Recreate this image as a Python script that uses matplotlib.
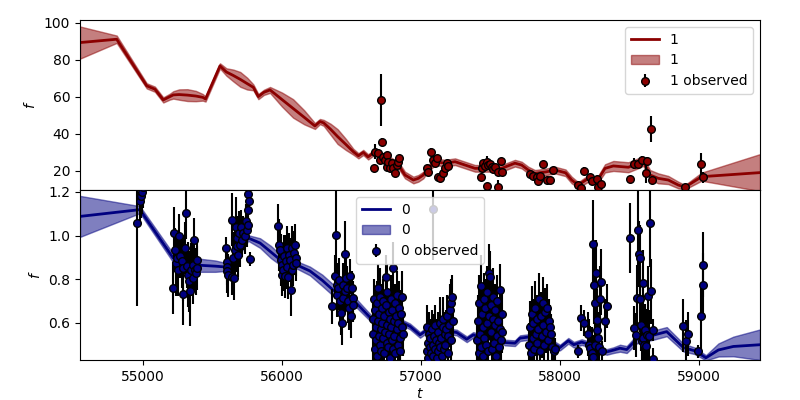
import numpy as np
import matplotlib
matplotlib.use("Agg")
import matplotlib.pyplot as plt

# ---------------- top panel (series "1") ----------------
t1_model = [54547, 54811, 55027, 55086, 55146, 55194, 55218, 55260, 55320, 55380,
            55430, 55450, 55554, 55600, 55650, 55700, 55750, 55794, 55830, 55870,
            55914, 56000, 56080, 56160, 56237, 56273, 56300, 56350, 56400, 56460,
            56513, 56550, 56585, 56620, 56669, 56760, 56837, 56885,
            56945, 56981, 57017, 57041, 57101, 57173, 57245, 57317, 57389, 57460,
            57580, 57676, 57724, 57772, 57820, 57900, 57964, 58040, 58084, 58132,
            58204, 58264, 58324, 58384, 58492, 58564, 58600, 58648, 58707, 58779,
            58851, 58899, 59019, 59439]
f1_model = [89.4, 91.2, 66.0, 64.2, 58.4, 60.2, 61.1, 61.3, 61.0, 60.5,
            59.8, 58.9, 76.8, 73.5, 71.6, 69.5, 67.2, 65.2, 60.2, 62.5,
            63.8, 58.6, 53.8, 49.0, 44.3, 46.7, 46.0, 42.5, 38.6, 34.3,
            30.4, 28.2, 30.0, 27.6, 30.4, 26.5, 23.2, 17.8,
            15.1, 16.0, 17.8, 20.5, 25.0, 24.2, 25.0, 23.2, 21.4, 21.4,
            21.4, 24.2, 23.2, 20.5, 18.7, 19.5, 20.5, 19.0, 15.1, 12.4,
            16.0, 14.2, 21.4, 22.7, 22.0, 24.2, 25.0, 17.8, 16.0, 15.1,
            12.4, 11.2, 16.9, 19.1]
s1_model = [8.7, 2.0, 1.4, 1.4, 1.4, 1.6, 2.0, 2.8, 3.2, 2.8,
            1.8, 1.4, 1.4, 2.0, 3.2, 4.0, 3.2, 1.6, 1.4, 1.4,
            1.6, 3.8, 5.0, 3.8, 1.6, 1.4, 1.6, 3.0, 4.0, 3.0,
            1.6, 1.4, 1.4, 1.4, 1.5, 1.8, 1.8, 1.8,
            1.8, 1.8, 1.8, 1.8, 1.8, 1.8, 1.8, 1.8, 1.8, 1.8,
            1.8, 1.8, 1.8, 1.8, 1.8, 1.8, 1.8, 1.8, 1.8, 1.5,
            1.8, 1.8, 2.2, 2.7, 2.7, 2.7, 2.2, 2.7, 2.7, 2.2,
            1.8, 1.2, 2.2, 10.0]

t1_obs = [56664, 56669, 56693, 56705, 56712, 56717, 56729, 56741, 56753, 56757,
          56765, 56777, 56789, 56801, 56813, 56825, 56837, 56844,
          57041, 57053, 57072, 57088, 57101, 57112, 57124, 57137, 57161, 57173,
          57185, 57197,
          57432, 57437, 57448, 57460, 57472, 57476, 57484, 57496, 57508, 57520,
          57532, 57552, 57556, 57575, 57580,
          57784, 57808, 57832, 57839, 57856, 57880, 57904, 57928, 57952,
          58127, 58151, 58175, 58216, 58233, 58264, 58276, 58293,
          58503, 58532, 58564, 58592, 58619, 58624, 58652, 58664,
          58899, 59014, 59031]
f1_obs = [21.4, 30.4, 29.6, 25.9, 58.4, 35.9, 27.7, 25.9, 28.6, 22.3,
          25.0, 21.4, 24.2, 21.4, 18.7, 23.2, 25.0, 26.9,
          21.4, 19.6, 30.4, 25.9, 24.5, 26.9, 16.9, 16.0, 18.7, 21.4,
          24.2, 22.7,
          16.6, 21.4, 24.2, 22.6, 25.0, 11.9, 23.2, 23.8, 22.0, 20.9,
          22.0, 19.6, 11.2, 25.6, 19.6,
          18.2, 17.3, 16.9, 14.8, 17.3, 23.6, 15.1, 15.1, 20.5,
          12.4, 10.6, 20.2, 16.9, 14.6, 15.5, 11.2, 13.0,
          15.5, 23.8, 23.8, 25.9, 18.7, 25.4, 42.5, 15.1,
          11.2, 23.8, 16.6]
e1_obs = [1.5, 4.0, 1.5, 1.5, 14.0, 2.0, 1.5, 1.5, 1.5, 1.5,
          1.5, 1.5, 1.5, 1.5, 1.5, 1.5, 1.5, 1.5,
          1.5, 1.5, 2.0, 1.5, 1.5, 1.5, 1.5, 1.5, 1.5, 1.5,
          1.5, 1.5,
          1.5, 1.5, 1.5, 2.0, 3.0, 1.5, 1.5, 1.5, 1.5, 1.5,
          1.5, 1.5, 4.0, 1.5, 1.5,
          1.5, 1.5, 1.5, 1.5, 1.5, 1.5, 1.5, 1.5, 1.5,
          1.5, 1.5, 2.0, 1.5, 1.5, 1.5, 1.5, 1.5,
          2.0, 3.0, 2.0, 2.0, 5.0, 2.0, 7.0, 2.0,
          1.5, 6.0, 3.0]

# ---------------- bottom panel (series "0") ----------------
t0_model = [54547, 54978, 55218, 55260, 55300, 55410, 55520, 55580, 55626, 55757,
            55842, 55920, 55986, 56081, 56201, 56290, 56369, 56513, 56657, 56860,
            56921, 56993, 57029, 57100, 57180, 57257, 57329, 57376, 57450, 57530,
            57604, 57676, 57712, 57772, 57850, 57928, 58000, 58060, 58100, 58156,
            58220, 58288, 58336, 58384, 58432, 58480, 58552, 58610, 58672, 58768,
            58888, 58970, 59050, 59140, 59247, 59439]
f0_model = [1.088, 1.119, 0.897, 0.885, 0.875, 0.864, 0.860, 0.857, 0.856, 0.989,
            0.966, 0.925, 0.890, 0.873, 0.838, 0.795, 0.750, 0.705, 0.610, 0.603,
            0.584, 0.545, 0.561, 0.548, 0.562, 0.556, 0.525, 0.545, 0.530, 0.540,
            0.510, 0.507, 0.530, 0.535, 0.520, 0.515, 0.487, 0.518, 0.500, 0.512,
            0.500, 0.476, 0.467, 0.475, 0.484, 0.478, 0.525, 0.535, 0.544, 0.560,
            0.487, 0.472, 0.440, 0.476, 0.492, 0.500]
s0_model = [0.094, 0.016, 0.020, 0.024, 0.027, 0.030, 0.026, 0.020, 0.016, 0.013,
            0.022, 0.028, 0.024, 0.016, 0.020, 0.026, 0.026, 0.020, 0.015, 0.013,
            0.013, 0.013, 0.013, 0.013, 0.013, 0.013, 0.013, 0.013, 0.013, 0.013,
            0.013, 0.013, 0.013, 0.013, 0.013, 0.013, 0.013, 0.013, 0.013, 0.013,
            0.013, 0.013, 0.013, 0.013, 0.016, 0.016, 0.019, 0.021, 0.021, 0.021,
            0.018, 0.015, 0.012, 0.030, 0.045, 0.070]

t0_obs = [
    # ~55000
    54959, 54978, 54985, 54992, 54998,
    # ~55300
    55218, 55223, 55230, 55235, 55242, 55250, 55261, 55266, 55278, 55286,
    55290, 55302, 55309, 55314, 55326, 55333, 55338, 55345, 55358, 55362,
    55369, 55374, 55381, 55386, 55391,
    # ~55680
    55597, 55602, 55604, 55606, 55614, 55638, 55642, 55650, 55657, 55662,
    55667, 55674, 55678, 55686, 55691, 55698, 55703, 55710, 55722, 55734,
    55741, 55746, 55753, 55758, 55759, 55763, 55770,
    # ~56040
    55973, 55978, 55986, 55991, 55998, 56002, 56009, 56014, 56022, 56027,
    56034, 56038, 56045, 56050, 56058, 56063, 56070, 56074, 56081, 56088,
    56093, 56099, 56101,
    # ~56440
    56358, 56381, 56388, 56393, 56398, 56405, 56412, 56417, 56424, 56429,
    56436, 56441, 56453, 56454, 56460, 56470, 56477, 56484, 56489, 56496,
    56501, 56508, 56513,
    # ~56760
    56655, 56658, 56662, 56667, 56669, 56673, 56678, 56681, 56685, 56689,
    56693, 56696, 56700, 56703, 56707, 56711, 56714, 56719, 56722, 56726,
    56729, 56734, 56737, 56741, 56745, 56748, 56752, 56756, 56759, 56763,
    56768, 56771, 56775, 56779, 56782, 56786, 56790, 56794, 56797, 56801,
    56805, 56809, 56812, 56816, 56820, 56824, 56829, 56833, 56837, 56842,
    56846, 56851, 56856, 56861, 56866, 56871,
    # ~57130
    57040, 57044, 57049, 57053, 57058, 57063, 57067, 57072, 57078, 57083,
    57087, 57090, 57093, 57098, 57104, 57109, 57113, 57119, 57124, 57129,
    57134, 57139, 57145, 57150, 57155, 57160, 57166, 57171, 57176, 57181,
    57186, 57192, 57197, 57203, 57208, 57213, 57218, 57223, 57228,
    # ~57500
    57405, 57410, 57414, 57419, 57424, 57429, 57433, 57438, 57443, 57448,
    57452, 57457, 57462, 57467, 57472, 57477, 57481, 57486, 57491, 57496,
    57501, 57506, 57510, 57515, 57520, 57525, 57530, 57535, 57540, 57545,
    57550, 57555, 57560, 57565, 57570, 57575, 57580, 57586,
    # ~57870
    57780, 57786, 57792, 57797, 57803, 57808, 57814, 57820, 57826, 57832,
    57838, 57844, 57851, 57857, 57863, 57869, 57875, 57881, 57887, 57893,
    57899, 57904, 57911, 57918, 57926, 57934, 57945, 57958, 57966,
    # ~58250
    58132, 58151, 58175, 58204, 58211, 58216, 58228, 58235, 58240, 58242,
    58252, 58253, 58259, 58264, 58268, 58276, 58280, 58288, 58295, 58300,
    58324, 58340,
    # ~58590
    58503, 58532, 58549, 58556, 58563, 58565, 58576, 58578, 58585, 58587,
    58599, 58600, 58602, 58611, 58619, 58623, 58631, 58642, 58648, 58652,
    58666, 58667,
    # ~58950
    58888, 58904, 58918, 58995, 59016, 59026, 59031]

f0_obs = [
    1.058, 1.157, 1.180, 1.200, 1.225,
    0.760, 1.012, 0.935, 0.874, 0.897, 0.844, 0.997, 0.905, 0.882, 0.732,
    0.851, 0.943, 1.104, 0.859, 0.821, 0.790, 0.744, 0.844, 0.867, 0.805,
    0.981, 0.844, 0.828, 0.889, 0.851,
    0.943, 0.879, 0.855, 0.836, 0.818, 0.809, 1.073, 0.897, 0.805, 0.932,
    1.038, 0.951, 0.989, 0.912, 1.012, 0.958, 1.038, 0.981, 1.012, 0.997,
    1.066, 1.027, 1.190, 1.119, 1.050, 1.157, 0.893,
    1.043, 0.958, 0.932, 0.889, 0.867, 0.821, 0.844, 0.905, 0.813, 0.882,
    0.943, 0.855, 0.809, 0.912, 0.889, 0.752, 0.943, 0.844, 0.867, 0.920,
    0.955, 0.897, 0.874,
    0.676, 0.813, 1.004, 0.775, 0.729, 0.760, 0.798, 0.699, 0.645, 0.599,
    0.714, 0.775, 0.917, 0.744, 0.805, 0.760, 0.699, 0.668, 0.813, 0.630,
    0.760, 0.714, 0.683,
    0.62, 0.55, 0.71, 0.48, 0.66, 0.58, 0.52, 0.69, 0.45, 0.61,
    0.76, 0.54, 0.64, 0.50, 0.72, 0.57, 0.47, 0.67, 0.60, 0.53,
    0.70, 0.46, 0.63, 0.56, 0.68, 0.81, 0.51, 0.59, 0.74, 0.49,
    0.65, 0.55, 0.62, 0.44, 0.71, 0.58, 0.52, 0.66, 0.48, 0.85,
    0.61, 0.54, 0.69, 0.46, 0.63, 0.57, 0.73, 0.50, 0.60, 0.67,
    0.53, 0.47, 0.64, 0.58, 0.72, 0.55,
    0.47, 0.58, 0.51, 0.44, 0.55, 0.49, 0.53, 0.46, 0.57, 0.50,
    0.45, 1.12, 0.54, 0.48, 0.59, 0.52, 0.44, 0.56, 0.47, 0.51,
    0.60, 0.49, 0.53, 0.45, 0.58, 0.62, 0.48, 0.55, 0.50, 0.57,
    0.63, 0.46, 0.54, 0.59, 0.66, 0.52, 0.69, 0.72, 0.61,
    0.52, 0.61, 0.46, 0.69, 0.55, 0.77, 0.49, 0.64, 0.58, 0.45,
    0.71, 0.53, 0.67, 0.50, 0.60, 0.74, 0.47, 0.63, 0.83, 0.81,
    0.56, 0.68, 0.48, 0.62, 0.72, 0.51, 0.59, 0.66, 0.45, 0.70,
    0.54, 0.61, 0.49, 0.75, 0.57, 0.52, 0.64, 0.56,
    0.50, 0.58, 0.46, 0.64, 0.53, 0.60, 0.48, 0.67, 0.55, 0.62,
    0.51, 0.57, 0.71, 0.47, 0.63, 0.54, 0.69, 0.59, 0.50, 0.65,
    0.56, 0.67, 0.52, 0.61, 0.58, 0.55, 0.49, 0.47, 0.48,
    0.469, 0.622, 0.599, 0.548, 0.500, 0.484, 0.460, 0.445, 0.961, 0.775,
    0.691, 0.500, 0.828, 0.614, 0.568, 0.530, 0.490, 0.711, 0.787, 0.469,
    0.611, 0.676,
    0.989, 0.576, 0.545, 0.714, 1.024, 0.916, 0.897, 0.709, 0.591, 0.515,
    0.783, 0.530, 0.500, 0.568, 0.492, 0.545, 0.722, 0.538, 1.058, 0.744,
    0.568, 0.435,
    0.588, 0.515, 0.549, 0.469, 0.630, 0.772, 0.867]

e0_obs = [
    0.38, 0.10, 0.10, 0.10, 0.10,
    0.12, 0.12, 0.10, 0.15, 0.10, 0.12, 0.10, 0.10, 0.12, 0.14,
    0.15, 0.12, 0.12, 0.10, 0.15, 0.14, 0.16, 0.12, 0.10, 0.12,
    0.10, 0.10, 0.10, 0.08, 0.10,
    0.05, 0.08, 0.08, 0.10, 0.10, 0.08, 0.12, 0.12, 0.10, 0.12,
    0.14, 0.12, 0.10, 0.10, 0.10, 0.10, 0.08, 0.08, 0.08, 0.08,
    0.08, 0.08, 0.06, 0.06, 0.06, 0.06, 0.03,
    0.10, 0.12, 0.10, 0.12, 0.10, 0.10, 0.10, 0.10, 0.10, 0.12,
    0.10, 0.10, 0.10, 0.10, 0.10, 0.12, 0.10, 0.10, 0.10, 0.10,
    0.10, 0.08, 0.08,
    0.08, 0.10, 0.20, 0.10, 0.10, 0.10, 0.10, 0.10, 0.10, 0.10,
    0.10, 0.10, 0.15, 0.10, 0.10, 0.10, 0.10, 0.10, 0.08, 0.10,
    0.08, 0.08, 0.08,
    0.10, 0.12, 0.09, 0.11, 0.10, 0.13, 0.09, 0.10, 0.12, 0.10,
    0.11, 0.09, 0.12, 0.10, 0.13, 0.10, 0.09, 0.11, 0.10, 0.12,
    0.10, 0.09, 0.11, 0.10, 0.12, 0.10, 0.09, 0.11, 0.13, 0.10,
    0.10, 0.12, 0.09, 0.10, 0.11, 0.10, 0.12, 0.09, 0.10, 0.12,
    0.10, 0.11, 0.09, 0.10, 0.12, 0.10, 0.11, 0.09, 0.10, 0.12,
    0.10, 0.09, 0.11, 0.10, 0.12, 0.10,
    0.09, 0.10, 0.08, 0.09, 0.10, 0.08, 0.09, 0.10, 0.09, 0.08,
    0.09, 0.23, 0.10, 0.08, 0.09, 0.10, 0.08, 0.09, 0.10, 0.09,
    0.12, 0.09, 0.10, 0.08, 0.09, 0.10, 0.09, 0.10, 0.08, 0.09,
    0.10, 0.08, 0.09, 0.10, 0.12, 0.09, 0.11, 0.10, 0.09,
    0.10, 0.12, 0.09, 0.13, 0.10, 0.14, 0.09, 0.11, 0.10, 0.09,
    0.12, 0.10, 0.13, 0.09, 0.11, 0.12, 0.10, 0.11, 0.13, 0.12,
    0.10, 0.11, 0.09, 0.12, 0.13, 0.10, 0.11, 0.12, 0.09, 0.12,
    0.10, 0.11, 0.09, 0.12, 0.10, 0.09, 0.11, 0.10,
    0.10, 0.12, 0.09, 0.13, 0.10, 0.11, 0.09, 0.12, 0.10, 0.11,
    0.09, 0.10, 0.12, 0.09, 0.11, 0.10, 0.12, 0.10, 0.09, 0.11,
    0.10, 0.11, 0.09, 0.10, 0.10, 0.09, 0.08, 0.06, 0.05,
    0.03, 0.06, 0.06, 0.10, 0.12, 0.10, 0.12, 0.10, 0.20, 0.18,
    0.17, 0.12, 0.15, 0.14, 0.14, 0.12, 0.12, 0.15, 0.15, 0.05,
    0.10, 0.10,
    0.16, 0.10, 0.10, 0.15, 0.18, 0.15, 0.15, 0.15, 0.12, 0.12,
    0.15, 0.12, 0.12, 0.12, 0.12, 0.12, 0.14, 0.12, 0.20, 0.15,
    0.05, 0.05,
    0.12, 0.10, 0.10, 0.03, 0.15, 0.15, 0.15]

# ---------------- drawing ----------------
red = "darkred"
blue = "navy"

fig, (ax1, ax2) = plt.subplots(2, 1, sharex=True, figsize=(8, 4), dpi=100)
fig.subplots_adjust(left=0.1, right=0.95, top=0.95, bottom=0.1, hspace=0)

def panel(ax, tm, fm, sm, to, fo, eo, color, name):
    tm = np.asarray(tm); fm = np.asarray(fm); sm = np.asarray(sm)
    ax.plot(tm, fm, color=color, lw=2, label=name, zorder=2.5)
    ax.fill_between(tm, fm - sm, fm + sm, color=color, alpha=0.5,
                    label=name, zorder=2)
    ax.errorbar(to, fo, yerr=eo, fmt="o", color=color, ecolor="black",
                mec="black", mfc=color, ms=5.5, mew=1, elinewidth=1.5,
                label=name + " observed", zorder=3)
    ax.set_ylabel("$f$")

panel(ax1, t1_model, f1_model, s1_model, t1_obs, f1_obs, e1_obs, red, "1")
panel(ax2, t0_model, f0_model, s0_model, t0_obs, f0_obs, e0_obs, blue, "0")

ax1.set_ylim(9.7, 101.6)
ax1.set_yticks([20, 40, 60, 80, 100])
ax2.set_ylim(0.43, 1.209)
ax2.set_yticks([0.6, 0.8, 1.0, 1.2])
ax2.set_xlim(54547, 59439)
ax2.set_xticks([55000, 56000, 57000, 58000, 59000])
ax2.set_xlabel("$t$", labelpad=2)

ax1.legend(loc="upper right")
ax2.legend(loc="upper center")

fig.savefig("out.png", dpi=100)
